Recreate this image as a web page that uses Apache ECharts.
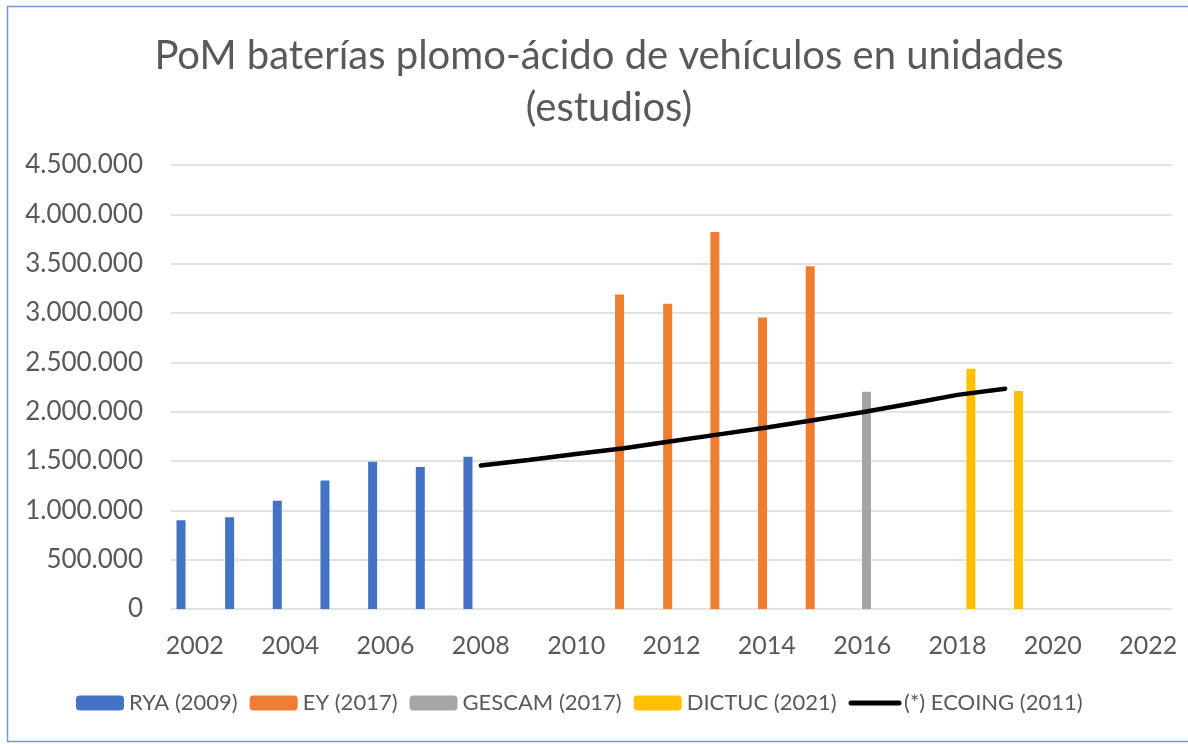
<!DOCTYPE html>
<html>
<head>
<meta charset="utf-8">
<script src="https://cdn.jsdelivr.net/npm/echarts@6/dist/echarts.min.js"></script>
<style>
  html, body { margin: 0; padding: 0; background: #fff; }
  #chart { width: 1188px; height: 744px; }
</style>
</head>
<body>
<div id="chart"></div>
<script>
  // positions on the year axis (bars sit a bit off the year centre)
  const ryaYears = [2001.71, 2002.73, 2003.73, 2004.73, 2005.73, 2006.73, 2007.73]
  const ryaValues = [900000, 931000, 1096000, 1303000, 1492000, 1438000, 1543000]
  const eyYears = [2010.91, 2011.92, 2012.91, 2013.91, 2014.91]
  const eyValues = [3188000, 3093000, 3820000, 2954000, 3475000]
  const gescamYears = [2016.09]
  const gescamValues = [2203000]
  const dictucYears = [2018.28, 2019.28]
  const dictucValues = [2434000, 2210000]
  const ecoingYears = [2008, 2009, 2010, 2011, 2012, 2013, 2014, 2015, 2016, 2017, 2018, 2019]
  const ecoingValues = [1455000, 1510000, 1570000, 1630000, 1700000, 1770000, 1840000, 1915000, 1995000, 2080000, 2170000, 2233000]

  const pair = (xs, ys) => xs.map((x, i) => [x, ys[i]])
  const grey = '#595959'
  const font = 'Lato'

  const myChart = echarts.init(document.getElementById('chart'))

  const barSeries = (name, color, xs, ys) => ({
    name: name,
    type: 'bar',
    barWidth: 9,
    barGap: '-100%',
    itemStyle: { color: color },
    data: pair(xs, ys)
  })

  const option = {
    animation: false,
    textStyle: { fontFamily: font },
    title: {
      text: 'PoM baterías plomo-ácido de vehículos en unidades\n(estudios)',
      left: 604,
      top: 25,
      textAlign: 'center',
      textStyle: {
        fontFamily: font,
        fontSize: 40,
        fontWeight: 'normal',
        color: grey,
        lineHeight: 52
      }
    },
    legend: {
      bottom: 25,
      left: 71,
      itemWidth: 48,
      itemHeight: 15,
      itemGap: 12,
      textStyle: { fontFamily: font, fontSize: 22, color: grey },
      data: [
        'RYA (2009)', 'EY (2017)', 'GESCAM (2017)', 'DICTUC (2021)',
        {
          name: '(*) ECOING (2011)',
          itemStyle: { color: 'rgba(0,0,0,0)', borderColor: 'rgba(0,0,0,0)', borderWidth: 0 },
          lineStyle: { color: '#000', width: 5, cap: 'round' }
        }
      ]
    },
    grid: {
      left: 171,
      right: 16,
      top: 165,
      bottom: 135
    },
    xAxis: {
      type: 'value',
      min: 2001.5,
      max: 2022.5,
      interval: 0.5,
      axisLine: { show: false },
      axisTick: { show: false },
      splitLine: { show: false },
      axisLabel: {
        color: grey,
        fontSize: 25,
        margin: 24,
        formatter: v => (v % 2 === 0 ? String(v) : '')
      }
    },
    yAxis: {
      type: 'value',
      min: 0,
      max: 4500000,
      interval: 500000,
      axisLine: { show: false },
      axisTick: { show: false },
      splitLine: { lineStyle: { color: '#d9d9d9', width: 1.5 } },
      axisLabel: {
        color: grey,
        fontSize: 26,
        margin: 28,
        formatter: v => v === 0 ? '0' : String(v).replace(/\B(?=(\d{3})+(?!\d))/g, '.')
      }
    },
    series: [
      barSeries('RYA (2009)', '#4472c4', ryaYears, ryaValues),
      barSeries('EY (2017)', '#ed7d31', eyYears, eyValues),
      barSeries('GESCAM (2017)', '#a5a5a5', gescamYears, gescamValues),
      barSeries('DICTUC (2021)', '#ffc000', dictucYears, dictucValues),
      {
        name: '(*) ECOING (2011)',
        type: 'line',
        symbol: 'none',
        lineStyle: { color: '#000', width: 4.5, cap: 'round' },
        itemStyle: { color: '#000' },
        data: pair(ecoingYears, ecoingValues)
      }
    ],
    graphic: [{
      type: 'rect',
      shape: { x: 7.5, y: 6.5, width: 1200, height: 735 },
      style: { fill: 'none', stroke: '#7598d8', lineWidth: 1.5 },
      silent: true
    }]
  }

  myChart.setOption(option)
</script>
</body>
</html>
